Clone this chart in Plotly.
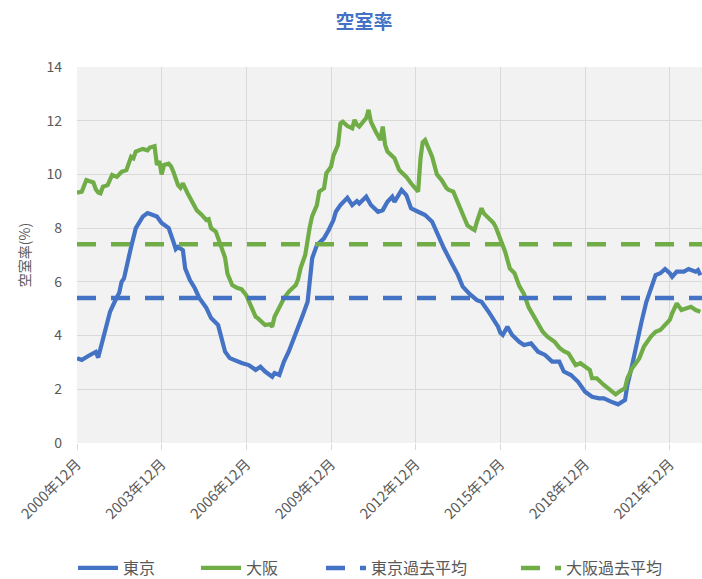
import plotly.graph_objects as go

# ---------------- data ----------------
TOKYO_DATES = [
    "2000-12", "2001-02", "2001-05", "2001-08", "2001-09", "2001-11", "2001-12",
    "2002-02", "2002-04", "2002-06", "2002-07", "2002-08", "2002-11",
    "2003-01", "2003-04", "2003-06", "2003-08", "2003-10", "2003-12",
    "2004-03", "2004-05", "2004-06", "2004-07", "2004-09", "2004-10", "2004-12",
    "2005-02", "2005-04", "2005-07", "2005-09", "2005-12",
    "2006-01", "2006-03", "2006-05", "2006-08", "2006-10",
    "2007-01", "2007-04", "2007-06", "2007-08", "2007-11", "2007-12",
    "2008-02", "2008-04", "2008-06", "2008-08", "2008-10", "2008-12",
    "2009-02", "2009-03", "2009-04", "2009-06", "2009-09", "2009-11",
    "2010-01", "2010-02", "2010-04", "2010-07", "2010-09", "2010-11", "2010-12",
    "2011-03", "2011-05", "2011-08", "2011-10", "2011-12",
    "2012-02", "2012-03", "2012-06", "2012-08", "2012-10",
    "2013-01", "2013-04", "2013-07", "2013-10", "2013-12",
    "2014-03", "2014-06", "2014-08", "2014-11",
    "2015-02", "2015-04", "2015-07", "2015-10", "2015-11", "2015-12",
    "2016-01", "2016-03", "2016-05", "2016-08", "2016-10",
    "2017-01", "2017-04", "2017-07", "2017-10",
    "2018-01", "2018-03", "2018-06", "2018-09", "2018-12",
    "2019-03", "2019-06", "2019-08", "2019-11",
    "2020-02", "2020-05", "2020-06", "2020-08", "2020-10", "2020-12",
    "2021-02", "2021-04", "2021-06", "2021-08", "2021-10", "2021-12",
    "2022-01", "2022-03", "2022-06", "2022-08", "2022-11", "2022-12", "2023-01",
]
TOKYO_VALUES = [
    3.16, 3.09, 3.25, 3.39, 3.18, 3.83, 4.10,
    4.88, 5.25, 5.60, 6.00, 6.13, 7.30,
    8.00, 8.43, 8.56, 8.50, 8.43, 8.19,
    8.00, 7.50, 7.22, 7.30, 7.18, 6.50, 6.07,
    5.77, 5.40, 5.03, 4.65, 4.39,
    4.02, 3.40, 3.16, 3.03, 2.98,
    2.90, 2.72, 2.84, 2.66, 2.47, 2.60,
    2.53, 3.03, 3.40, 3.83, 4.27, 4.77,
    5.26, 6.13, 6.88, 7.37, 7.62, 7.93,
    8.30, 8.61, 8.86, 9.13, 8.86, 9.01, 8.92,
    9.17, 8.86, 8.61, 8.67, 8.98,
    9.17, 8.98, 9.42, 9.23, 8.74,
    8.61, 8.49, 8.24, 7.62, 7.25,
    6.75, 6.25, 5.82, 5.54,
    5.32, 5.26, 4.89, 4.52, 4.33, 4.10,
    4.02, 4.33, 4.02, 3.77, 3.65,
    3.71, 3.40, 3.28, 3.03,
    3.03, 2.66, 2.53, 2.28, 1.91,
    1.72, 1.66, 1.66, 1.54,
    1.44, 1.60, 2.16, 2.90, 3.77, 4.52,
    5.26, 5.76, 6.25, 6.32, 6.48, 6.32,
    6.19, 6.38, 6.38, 6.48, 6.38, 6.44, 6.25,
]

OSAKA_DATES = [
    "2000-12", "2001-02", "2001-04", "2001-06", "2001-07", "2001-08", "2001-09",
    "2001-10", "2001-11", "2002-01", "2002-03", "2002-05", "2002-07", "2002-09",
    "2002-11", "2002-12", "2003-01", "2003-04", "2003-06", "2003-07", "2003-09",
    "2003-10", "2003-11", "2003-12", "2004-01", "2004-03", "2004-04", "2004-05",
    "2004-07", "2004-08", "2004-09", "2004-11", "2005-01", "2005-03", "2005-05",
    "2005-07", "2005-08", "2005-09", "2005-11", "2006-01", "2006-03", "2006-04",
    "2006-06", "2006-08", "2006-10", "2006-12", "2007-01", "2007-03", "2007-04",
    "2007-05", "2007-07", "2007-08", "2007-10", "2007-11", "2007-12", "2008-02",
    "2008-04", "2008-06", "2008-09", "2008-10", "2008-11", "2009-01", "2009-02",
    "2009-03", "2009-04", "2009-06", "2009-07", "2009-09", "2009-10", "2009-12",
    "2010-01", "2010-02", "2010-03", "2010-04", "2010-05", "2010-07", "2010-09",
    "2010-10", "2010-11", "2010-12", "2011-01", "2011-02", "2011-03", "2011-04",
    "2011-05", "2011-07", "2011-09", "2011-10", "2011-11", "2011-12", "2012-03",
    "2012-05", "2012-08", "2012-10", "2012-12", "2013-01", "2013-02", "2013-03",
    "2013-04", "2013-05", "2013-07", "2013-09", "2013-11", "2014-01", "2014-02",
    "2014-04", "2014-06", "2014-08", "2014-10", "2014-12", "2015-01", "2015-02",
    "2015-04", "2015-05", "2015-07", "2015-09", "2015-10", "2015-12", "2016-02",
    "2016-04", "2016-06", "2016-08", "2016-10", "2016-12", "2017-02", "2017-04",
    "2017-06", "2017-08", "2017-11", "2018-01", "2018-03", "2018-05", "2018-07",
    "2018-08", "2018-10", "2018-12", "2019-02", "2019-03", "2019-05", "2019-08",
    "2019-11", "2020-01", "2020-03", "2020-05", "2020-06", "2020-08", "2020-11",
    "2021-01", "2021-04", "2021-06", "2021-08", "2021-10", "2021-12", "2022-01",
    "2022-03", "2022-05", "2022-07", "2022-09", "2022-11", "2023-01",
]
OSAKA_VALUES = [
    9.32, 9.36, 9.79, 9.73, 9.70, 9.45, 9.33,
    9.30, 9.54, 9.60, 9.98, 9.91, 10.10, 10.16,
    10.66, 10.60, 10.85, 10.95, 10.90, 11.00, 11.05,
    10.35, 10.50, 10.00, 10.35, 10.40, 10.30, 10.10,
    9.60, 9.50, 9.67, 9.30, 9.00, 8.66, 8.50,
    8.30, 8.33, 8.00, 7.87, 7.37, 6.90, 6.30,
    5.88, 5.78, 5.72, 5.50, 5.30, 4.85, 4.70,
    4.64, 4.46, 4.39, 4.42, 4.33, 4.70, 5.07,
    5.39, 5.63, 5.88, 6.10, 6.50, 7.00, 7.60,
    8.05, 8.45, 8.86, 9.36, 9.48, 10.04, 10.29,
    10.70, 10.97, 11.10, 11.90, 11.96, 11.80, 11.72,
    12.03, 11.85, 11.78, 11.90, 12.03, 12.10, 12.40,
    11.96, 11.60, 11.28, 11.78, 11.10, 10.85, 10.60,
    10.16, 9.91, 9.67, 9.45, 9.36, 10.60, 11.20,
    11.28, 11.10, 10.66, 10.00, 9.79, 9.50, 9.42,
    9.36, 8.95, 8.45, 8.10, 7.98, 7.93, 8.24,
    8.74, 8.55, 8.40, 8.20, 8.05, 7.55, 7.12,
    6.50, 6.32, 5.85, 5.55, 5.05, 4.75, 4.50,
    4.14, 3.96, 3.77, 3.55, 3.42, 3.34, 3.00,
    2.90, 2.97, 2.84, 2.72, 2.41, 2.41, 2.16,
    1.94, 1.81, 1.94, 2.04, 2.41, 2.78, 3.15,
    3.59, 3.96, 4.14, 4.21, 4.39, 4.58, 4.83,
    5.20, 4.95, 5.01, 5.07, 4.95, 4.89,
]

TOKYO_AVG = 5.4
OSAKA_AVG = 7.4
AVG_SPAN = ["2000-12-01", "2023-02-01"]

TICK_DATES = ["2000-12-01", "2003-12-01", "2006-12-01", "2009-12-01",
              "2012-12-01", "2015-12-01", "2018-12-01", "2021-12-01"]
TICK_LABELS = ["2000年12月", "2003年12月", "2006年12月", "2009年12月",
               "2012年12月", "2015年12月", "2018年12月", "2021年12月"]

SERIES_NAMES = ["東京", "大阪", "東京過去平均", "大阪過去平均"]

# ---------------- figure ----------------
BLUE = "#4472C4"
GREEN = "#70AD47"
GRID = "#D9D9D9"
TEXT = "#595959"
FONT = "Noto Sans CJK JP"

fig = go.Figure()
fig.add_trace(go.Scatter(x=TOKYO_DATES, y=TOKYO_VALUES, mode="lines",
                         name=SERIES_NAMES[0], legendwidth=68,
                         line=dict(color=BLUE, width=4.2)))
fig.add_trace(go.Scatter(x=OSAKA_DATES, y=OSAKA_VALUES, mode="lines",
                         name=SERIES_NAMES[1], legendwidth=70,
                         line=dict(color=GREEN, width=4.2)))
fig.add_trace(go.Scatter(x=AVG_SPAN, y=[TOKYO_AVG, TOKYO_AVG], mode="lines",
                         name=SERIES_NAMES[2], legendwidth=140,
                         line=dict(color=BLUE, width=4.5, dash="19px,15px")))
fig.add_trace(go.Scatter(x=AVG_SPAN, y=[OSAKA_AVG, OSAKA_AVG], mode="lines",
                         name=SERIES_NAMES[3], legendwidth=104,
                         line=dict(color=GREEN, width=4.5, dash="19px,15px")))

fig.update_layout(
    width=702, height=579,
    margin=dict(l=77, r=0, t=67, b=136, autoexpand=False),
    paper_bgcolor="white",
    plot_bgcolor="#F2F2F2",
    font=dict(family=FONT, color=TEXT, size=13),
    title=dict(text="<b>空室率</b>", x=364 / 702, xref="container", xanchor="center",
               y=1 - 22 / 579, yref="container", yanchor="middle",
               font=dict(family=FONT, size=19, color=BLUE)),
    showlegend=True,
    legend=dict(orientation="h", xref="container", x=374 / 702, xanchor="center",
                yref="container", y=1 - 568 / 579, yanchor="middle",
                font=dict(family=FONT, size=16, color=TEXT),
                itemwidth=40,
                bgcolor="rgba(0,0,0,0)"),
    xaxis=dict(type="date", range=["2000-12-01", "2023-01-22"],
               tickmode="array", tickvals=TICK_DATES, ticktext=TICK_LABELS,
               tickangle=-45, tickfont=dict(size=14.5, color=TEXT, family=FONT),
               showgrid=True, gridcolor=GRID, gridwidth=1.3,
               ticks="outside", ticklen=6, tickcolor=GRID, tickwidth=1.3,
               showline=False, zeroline=False),
    yaxis=dict(range=[0, 14], dtick=2, tickfont=dict(size=14, color=TEXT, family=FONT),
               showgrid=True, gridcolor=GRID, gridwidth=1.3,
               zeroline=False, showline=False,
               ticks="", ticklabelstandoff=14,
               title=dict(text="空室率(%)", font=dict(size=14, color=TEXT, family=FONT),
                          standoff=12)),
)

fig.write_html(
    "out.html",
    config={"displayModeBar": False},
    post_script="document.body.style.margin='0';document.body.style.overflow='hidden';",
)
